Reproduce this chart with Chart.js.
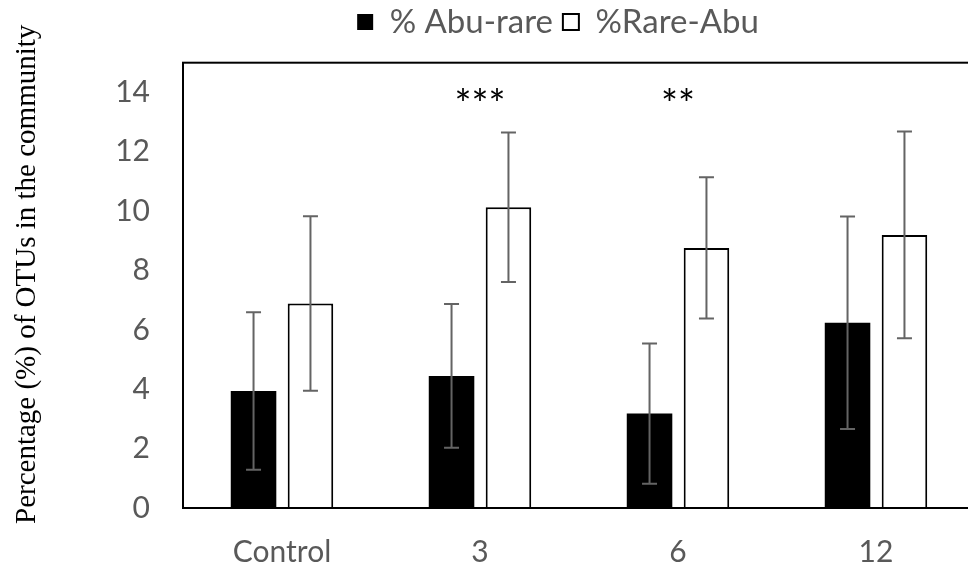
<!DOCTYPE html>
<html><head><meta charset="utf-8">
<script src="https://cdn.jsdelivr.net/npm/chart.js@4"></script>
<style>html,body{margin:0;padding:0;background:#fff;overflow:hidden;width:968px;height:568px}canvas{display:block}</style>
</head><body>
<canvas id="c" width="1116" height="568" style="width:1116px;height:568px"></canvas>
<script>
const categories = ['Control', '3', '6', '12'];
const seriesNames = ['% Abu-rare', '%Rare-Abu'];
const abuRare = [3.94, 4.45, 3.18, 6.24];
const abuRareErr = [2.65, 2.42, 2.36, 3.58];
const rareAbu = [6.89, 10.13, 8.76, 9.20];
const rareAbuErr = [2.94, 2.52, 2.38, 3.48];
const significance = ['', '***', '**', ''];
const yTicks = [0, 2, 4, 6, 8, 10, 12, 14];
const yTitle = 'Percentage (%) of OTUs in the community';

const errors = [abuRareErr, rareAbuErr];

const framePlugin = {
  id: 'frame',
  afterDatasetsDraw(chart) {
    const {ctx, chartArea: a} = chart;
    ctx.save();
    ctx.strokeStyle = '#000';
    ctx.lineWidth = 2;
    ctx.strokeRect(a.left, a.top, a.right - a.left, a.bottom - a.top);
    ctx.restore();
  }
};

const errorBarPlugin = {
  id: 'errorBars',
  afterDatasetsDraw(chart) {
    const {ctx} = chart;
    const y = chart.scales.y;
    ctx.save();
    ctx.strokeStyle = '#646464';
    ctx.lineWidth = 2;
    chart.data.datasets.forEach((ds, i) => {
      const meta = chart.getDatasetMeta(i);
      meta.data.forEach((el, j) => {
        const v = ds.data[j], e = errors[i][j];
        const yt = y.getPixelForValue(v + e), yb = y.getPixelForValue(v - e);
        const x = el.x, cap = 7.5;
        ctx.beginPath();
        ctx.moveTo(x, yt); ctx.lineTo(x, yb);
        ctx.moveTo(x - cap, yt); ctx.lineTo(x + cap, yt);
        ctx.moveTo(x - cap, yb); ctx.lineTo(x + cap, yb);
        ctx.stroke();
      });
    });
    ctx.restore();
  }
};

const sigPlugin = {
  id: 'sig',
  afterDatasetsDraw(chart) {
    const {ctx} = chart;
    const x = chart.scales.x, y = chart.scales.y;
    ctx.save();
    ctx.fillStyle = '#000';
    ctx.font = '40px Lato';
    ctx.textAlign = 'center';
    ctx.textBaseline = 'alphabetic';
    significance.forEach((s, i) => {
      if (s) ctx.fillText(s, x.getPixelForValue(i), y.getPixelForValue(13.1));
    });
    ctx.restore();
  }
};

new Chart(document.getElementById('c'), {
  type: 'bar',
  data: {
    labels: categories,
    datasets: [
      {label: seriesNames[0], data: abuRare, backgroundColor: '#000', borderColor: '#000', borderWidth: 0,
       categoryPercentage: 0.575, barPercentage: 0.8},
      {label: seriesNames[1], data: rareAbu, backgroundColor: '#fff', borderColor: '#000', borderWidth: 2,
       categoryPercentage: 0.575, barPercentage: 0.8}
    ]
  },
  options: {
    responsive: false,
    animation: false,
    devicePixelRatio: 1,
    layout: {padding: {top: -4.5, left: 0, right: 0, bottom: 0}},
    plugins: {
      legend: {
        position: 'top', weight: 3000,
        labels: {color: '#595959', font: {family: 'Lato', size: 33}, boxWidth: 16, boxHeight: 16, padding: 10}
      },
      title: {display: true, text: '', weight: 500, font: {size: 10, lineHeight: 1}, padding: {top: 4.2, bottom: 0}},
      tooltip: {enabled: false}
    },
    scales: {
      x: {
        grid: {display: false, drawTicks: false},
        border: {display: true, color: '#000', width: 2},
        ticks: {color: '#595959', font: {family: 'Lato', size: 30}, padding: 26},
        afterFit(s) { s.height = 60; }
      },
      y: {
        position: 'left', min: 0, max: 15,
        afterBuildTicks(s) { s.ticks = yTicks.map(v => ({value: v})); },
        grid: {display: false, drawTicks: false},
        border: {display: true, color: '#000', width: 2},
        ticks: {color: '#595959', font: {family: 'Lato', size: 30}, padding: 33},
        title: {display: true, text: yTitle, color: '#000', font: {family: 'Liberation Serif', size: 29}, padding: {top: 10, bottom: 0}},
        afterFit(s) {
          s.width = 183;
          if (!s._titleShift) {
            const orig = s.drawTitle.bind(s);
            s.drawTitle = function () {
              this.ctx.save();
              this.ctx.translate(0, -11);
              orig();
              this.ctx.restore();
            };
            s._titleShift = true;
          }
        }
      },
      yR: {
        position: 'right', display: true,
        grid: {display: false, drawTicks: false},
        border: {display: false},
        ticks: {display: false},
        afterFit(s) { s.width = 141; }
      }
    }
  },
  plugins: [framePlugin, errorBarPlugin, sigPlugin]
});
</script>
</body></html>
